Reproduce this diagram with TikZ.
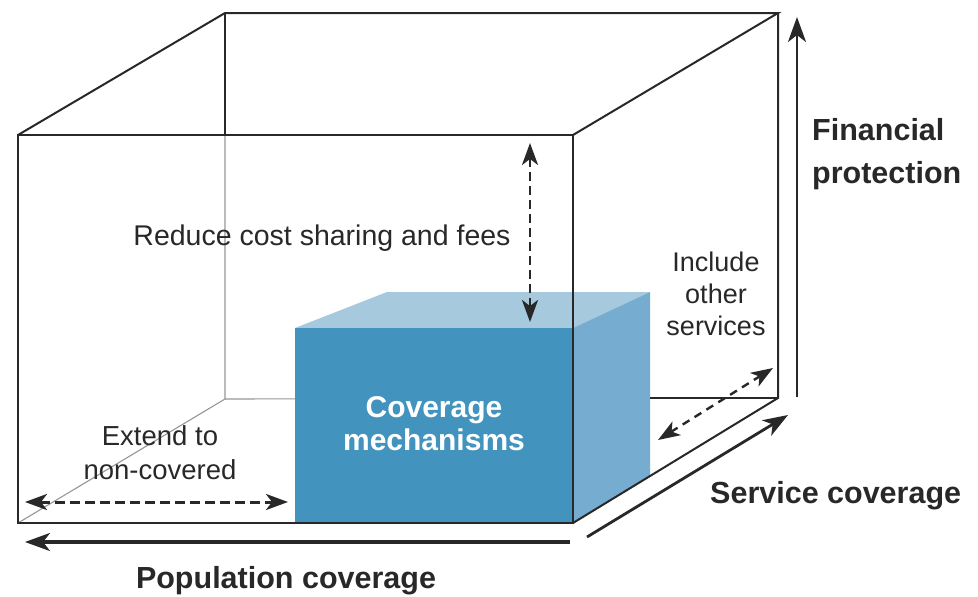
\documentclass[tikz,border=0pt]{standalone}
\usepackage{fontspec}
\setmainfont{Liberation Sans}
\usetikzlibrary{arrows.meta}
\definecolor{edgegray}{RGB}{40,40,40}
\definecolor{hiddengray}{RGB}{150,150,150}
\definecolor{blockfront}{RGB}{66,148,190}
\definecolor{blocktop}{RGB}{166,201,222}
\definecolor{blockside}{RGB}{118,172,208}
\tikzset{
  edge/.style={edgegray,line width=2pt},
  hidden/.style={hiddengray,line width=1.1pt},
  axis/.style={edgegray,line width=2.8pt,->,>={Stealth[length=25pt,width=18pt,inset=7pt]}},
  change/.style={edgegray,line width=3pt,dash pattern=on 10pt off 5pt,<->,>={Stealth[length=22pt,width=16pt,inset=6pt]}},
  axislabel/.style={font=\fontsize{30.5}{43}\selectfont\bfseries,text=edgegray,inner sep=0pt},
  note/.style={font=\fontsize{27.5}{34}\selectfont,text=edgegray,inner sep=0pt,align=center}
}
\begin{document}
\begin{tikzpicture}[x=1pt,y=-1pt]
\useasboundingbox (0,0) rectangle (978,597);
% corners of the box
\coordinate (ftl) at (18,135); \coordinate (ftr) at (573,135);
\coordinate (fbl) at (18,523); \coordinate (fbr) at (573,523);
\coordinate (btl) at (225,13); \coordinate (btr) at (778,13);
\coordinate (bbl) at (225,399); \coordinate (bbr) at (778,398);
% corners of the block
\coordinate (cfl) at (295,328); \coordinate (cfr) at (573,328);
\coordinate (cbl) at (387,292); \coordinate (cbr) at (650,292);
\coordinate (cbb) at (650,476); \coordinate (cbf) at (295,523);
% hidden edges
\draw[hidden] (ftl-|btl) -- (bbl) -- (fbl);
\draw[hidden] (bbl) -- (bbr);
% coverage block
\fill[blocktop] (cfl) -- (cbl) -- (cbr) -- (cfr) -- cycle;
\fill[blockside] (cfr) -- (cbr) -- (cbb) -- (fbr) -- cycle;
\fill[blockfront] (cfl) rectangle (fbr);
% visible edges
\draw[edge] (ftl) rectangle (fbr);
\draw[edge] (ftl) -- (btl) -- (btr) -- (ftr);
\draw[edge] (btl) -- (ftl-|btl);
\draw[edge] (btr) -- (bbr) -- (fbr);
\draw[edge] (cbr|-bbr) -- (bbr);
% axes
\coordinate (fin0) at (797,397); \coordinate (fin1) at (797,17);
\coordinate (srv0) at (587,537); \coordinate (srv1) at (788,415);
\coordinate (pop0) at (570,542); \coordinate (pop1) at (25,542);
\draw[axis] (fin0) -- (fin1);
\draw[axis] (srv0) -- (srv1);
\draw[axis,line width=3.2pt] (pop0) -- (pop1);
% extensions
\coordinate (ext0) at (25,502); \coordinate (ext1) at (288,502);
\coordinate (red0) at (530,143); \coordinate (red1) at (530,322);
\coordinate (inc0) at (658,440); \coordinate (inc1) at (773,368);
\draw[change] (ext0) -- (ext1);
\draw[change,line width=2.6pt,dash pattern=on 9pt off 5pt] (red0) -- (red1);
\draw[change,line width=2.4pt,dash pattern=on 8pt off 6pt] (inc0) -- (inc1);
% labels
\node[axislabel,anchor=north west,align=left] (finlabel) at (812,118) {Financial\\protection};
\node[axislabel,anchor=base west] (srvlabel) at (710,503) {Service coverage};
\node[axislabel,anchor=base] (poplabel) at (286,588) {Population coverage};
\node[axislabel,text=white,anchor=north,align=center,font=\fontsize{30}{33}\selectfont\bfseries] (mech) at (434,396) {Coverage\\mechanisms};
\node[note,anchor=base,font=\fontsize{28.5}{34}\selectfont] (redlabel) at (322,245) {Reduce cost sharing and fees};
\node[note,anchor=north,font=\fontsize{27}{32}\selectfont] (inclabel) at (716,252) {Include\\other\\services};
\node[note,anchor=north] (extlabel) at (160,425) {Extend to\\non-covered};
\end{tikzpicture}
\end{document}
